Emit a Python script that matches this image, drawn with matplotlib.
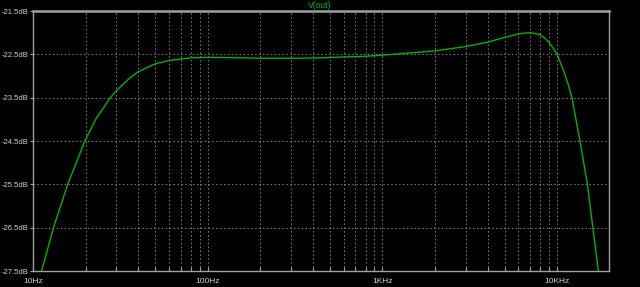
import matplotlib.pyplot as plt
from matplotlib.ticker import FixedLocator, LogLocator, NullFormatter

# AC sweep of V(out)
freq_hz = [11.2, 13.1, 15.8, 19.8, 23.0, 27.7, 30, 35, 40, 50, 60, 70, 80,
           100, 160, 200, 316, 457, 600, 755, 1077, 2000, 3000, 4000, 5000,
           6000, 6500, 7000, 7500, 8000, 8500, 9000, 9500, 10000, 10850,
           11600, 12150, 13500, 14900, 16000, 17200]
vout_db = [-27.5, -26.5, -25.5, -24.5, -23.98, -23.5, -23.34, -23.08, -22.9,
           -22.72, -22.64, -22.61, -22.58, -22.57, -22.58, -22.59, -22.59,
           -22.58, -22.56, -22.55, -22.51, -22.42, -22.32, -22.22, -22.11,
           -22.03, -22.01, -22.0, -22.02, -22.05, -22.13, -22.23, -22.36,
           -22.5, -22.86, -23.21, -23.5, -24.5, -25.5, -26.5, -27.5]

y_ticks = [-21.5, -22.5, -23.5, -24.5, -25.5, -26.5, -27.5]
x_ticks = [10, 100, 1000, 10000]
x_labels = ["10Hz", "100Hz", "1KHz", "10KHz"]

bg = "black"
axis_col = "#a0a0a0"
grid_col = "#808080"
text_col = "#d0d0d0"
trace_col = "#00b400"

fig = plt.figure(figsize=(6.4, 2.87), dpi=100, facecolor=bg)
ax = fig.add_axes([33 / 640, 1 - 271 / 287, 576 / 640, 260 / 287], facecolor=bg)

ax.plot(freq_hz, vout_db, color=trace_col, lw=1.0)

ax.set_xscale("log")
ax.set_xlim(10, 19800)
ax.set_ylim(-27.5, -21.5)

ax.xaxis.set_major_locator(FixedLocator(x_ticks))
ax.set_xticklabels(x_labels)
ax.xaxis.set_minor_locator(LogLocator(base=10, subs=range(2, 10)))
ax.xaxis.set_minor_formatter(NullFormatter())
ax.set_yticks(y_ticks)
ax.set_yticklabels([f"{v:.1f}dB" for v in y_ticks])

ax.grid(True, which="both", color=grid_col, ls=(0, (1.5, 2.5)), lw=0.7)
for s in ax.spines.values():
    s.set_color(axis_col)
    s.set_linewidth(1.0)
ax.spines["top"].set_linewidth(1.8)

ax.tick_params(axis="both", which="both", colors=axis_col, labelcolor=text_col,
               length=3, width=0.8, direction="out", labelsize=6, pad=1)
ax.tick_params(axis="y", length=2.5, labelsize=5.5, pad=0.8)
ax.tick_params(axis="x", which="both", direction="in", pad=5)
for lab in ax.get_xticklabels() + ax.get_yticklabels():
    lab.set_fontfamily("Liberation Sans")

fig.text(320 / 640, 1 - 5 / 287, "V(out)", color="#00c000", fontsize=6.2,
         family="Liberation Sans", ha="center", va="center")

fig.savefig("out.png", dpi=100, facecolor=bg)
